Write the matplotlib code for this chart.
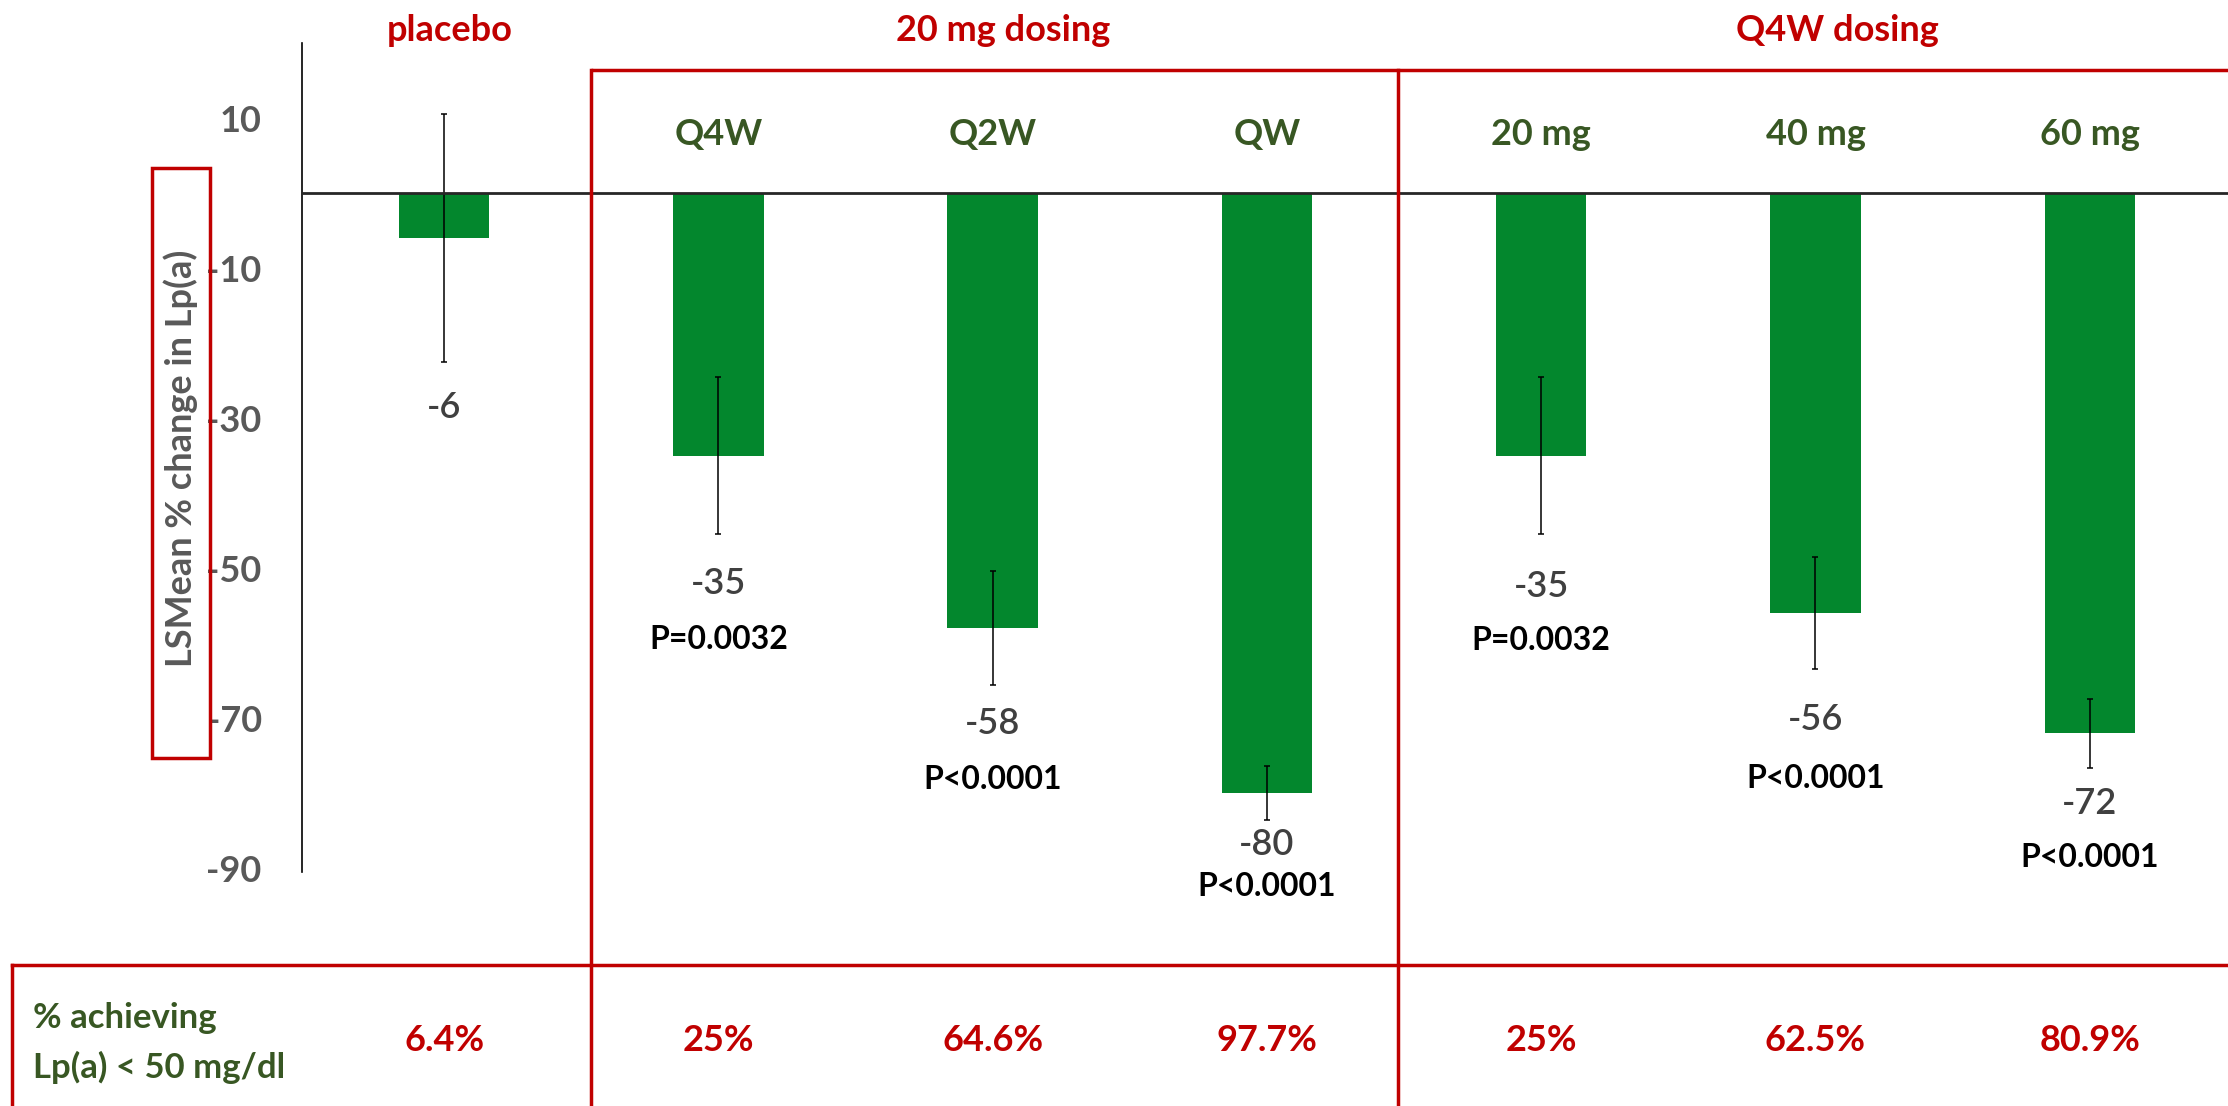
import matplotlib
matplotlib.use("Agg")
import matplotlib.pyplot as plt
import matplotlib.transforms as mtrans
from matplotlib.patches import Rectangle
import numpy as np

# ---------------- data ----------------
arms = ["placebo", "Q4W", "Q2W", "QW", "20 mg", "40 mg", "60 mg"]
arm_labels = ["", "Q4W", "Q2W", "QW", "20 mg", "40 mg", "60 mg"]
lsmean = [-6, -35, -58, -80, -35, -56, -72]
err = [16.5, 10.5, 7.6, 3.6, 10.5, 7.5, 4.6]
pvals = ["", "P=0.0032", "P<0.0001", "P<0.0001", "P=0.0032", "P<0.0001", "P<0.0001"]
achieving = ["6.4%", "25%", "64.6%", "97.7%", "25%", "62.5%", "80.9%"]
group_titles = ["placebo", "20 mg dosing", "Q4W dosing"]
yticks = [10, -10, -30, -50, -70, -90]
ylabel = "LSMean % change in Lp(a)"
row_label = ["% achieving", "Lp(a) < 50 mg/dl"]

# ---------------- style / layout ----------------
plt.rcParams['font.family'] = ['Lato', 'DejaVu Sans']
W, H, DPI = 2228, 1106, 100
GREEN = "#03872D"
RED = "#C00000"
DKGREEN = "#385723"
GRAY = "#595959"
VGRAY = "#404040"
FS = 26
# pixel gaps below the error bar for value labels and p-value labels
label_gap = [46, 49, 38, 24, 52, 50, 36]
p_gap = [56, 56, 56, 42, 54, 59, 54]

fig = plt.figure(figsize=(W / DPI, H / DPI), dpi=DPI)
fig.patch.set_facecolor("white")

ax_left, ax_top, ax_bot = 302, 43, 872
ax = fig.add_axes([ax_left / W, 1 - ax_bot / H, 1 - ax_left / W, (ax_bot - ax_top) / H])
x = np.arange(len(arms))

ax.bar(x, lsmean, width=0.33, color=GREEN, zorder=2)
ax.errorbar(x, lsmean, yerr=err, fmt='none', ecolor='black', elinewidth=1.1,
            capsize=2.5, capthick=1.1, zorder=3)
ax.axhline(0, color='#262626', lw=2, zorder=4)

ax.set_xlim(-0.518, 6.504)
ax.set_ylim(-90.5, 20)
for s in ["top", "right", "bottom"]:
    ax.spines[s].set_visible(False)
ax.spines["left"].set_color("black")
ax.spines["left"].set_linewidth(1.2)
ax.set_xticks([])
ax.set_yticks(yticks)
ax.set_yticklabels([str(t) for t in yticks], fontweight='bold')
ax.tick_params(axis='y', length=0, pad=29, labelsize=FS, labelcolor=GRAY)
ax.set_facecolor("none")

# value + p labels
for xi, v, e, p, g, pg in zip(x, lsmean, err, pvals, label_gap, p_gap):
    ax.annotate(str(v), xy=(xi, v - e), xytext=(0, -g), textcoords='offset pixels',
                ha='center', va='center', fontsize=FS, color=VGRAY, fontweight='semibold')
    if p:
        ax.annotate(p, xy=(xi, v - e), xytext=(0, -g - pg), textcoords='offset pixels',
                    ha='center', va='center', fontsize=23, color='black', fontweight='bold')

# overlay in pixel coordinates for boxes and headers
ov = fig.add_axes([0, 0, 1, 1])
ov.set_xlim(0, W)
ov.set_ylim(H, 0)
ov.axis('off')
ov.set_facecolor("none")

lw = 2.5
ov.plot([591, W], [70, 70], color=RED, lw=lw, solid_capstyle='butt')
ov.plot([591, 591], [70, H], color=RED, lw=lw)
ov.plot([1398, 1398], [70, H], color=RED, lw=lw)
ov.plot([12, W], [965, 965], color=RED, lw=lw)
ov.plot([12, 12], [965, H], color=RED, lw=lw)
ov.add_patch(Rectangle((152, 168), 58, 590, fill=False, edgecolor=RED, lw=lw))

ov.text(181, 458, ylabel, rotation=90, ha='center', va='center', fontsize=FS,
        color=GRAY, fontweight='bold')

bt = mtrans.blended_transform_factory(ax.transData, ov.transData)
title_x = [0.02, 2.04, 5.08]
for tx, tt in zip(title_x, group_titles):
    ov.text(tx, 41, tt, transform=bt, ha='center', va='baseline', fontsize=FS,
            color=RED, fontweight='bold')

for xi, lab in zip(x, arm_labels):
    if lab:
        ov.text(xi, 145, lab, transform=bt, ha='center', va='baseline', fontsize=FS,
                color=DKGREEN, fontweight='bold')

for xi, a in zip(x, achieving):
    ov.text(xi, 1051, a, transform=bt, ha='center', va='baseline', fontsize=FS,
            color=RED, fontweight='bold')

ov.text(33, 1028, row_label[0], ha='left', va='baseline', fontsize=25,
        color=DKGREEN, fontweight='bold')
ov.text(33, 1078, row_label[1], ha='left', va='baseline', fontsize=25,
        color=DKGREEN, fontweight='bold')

fig.savefig("out.png", dpi=DPI)
